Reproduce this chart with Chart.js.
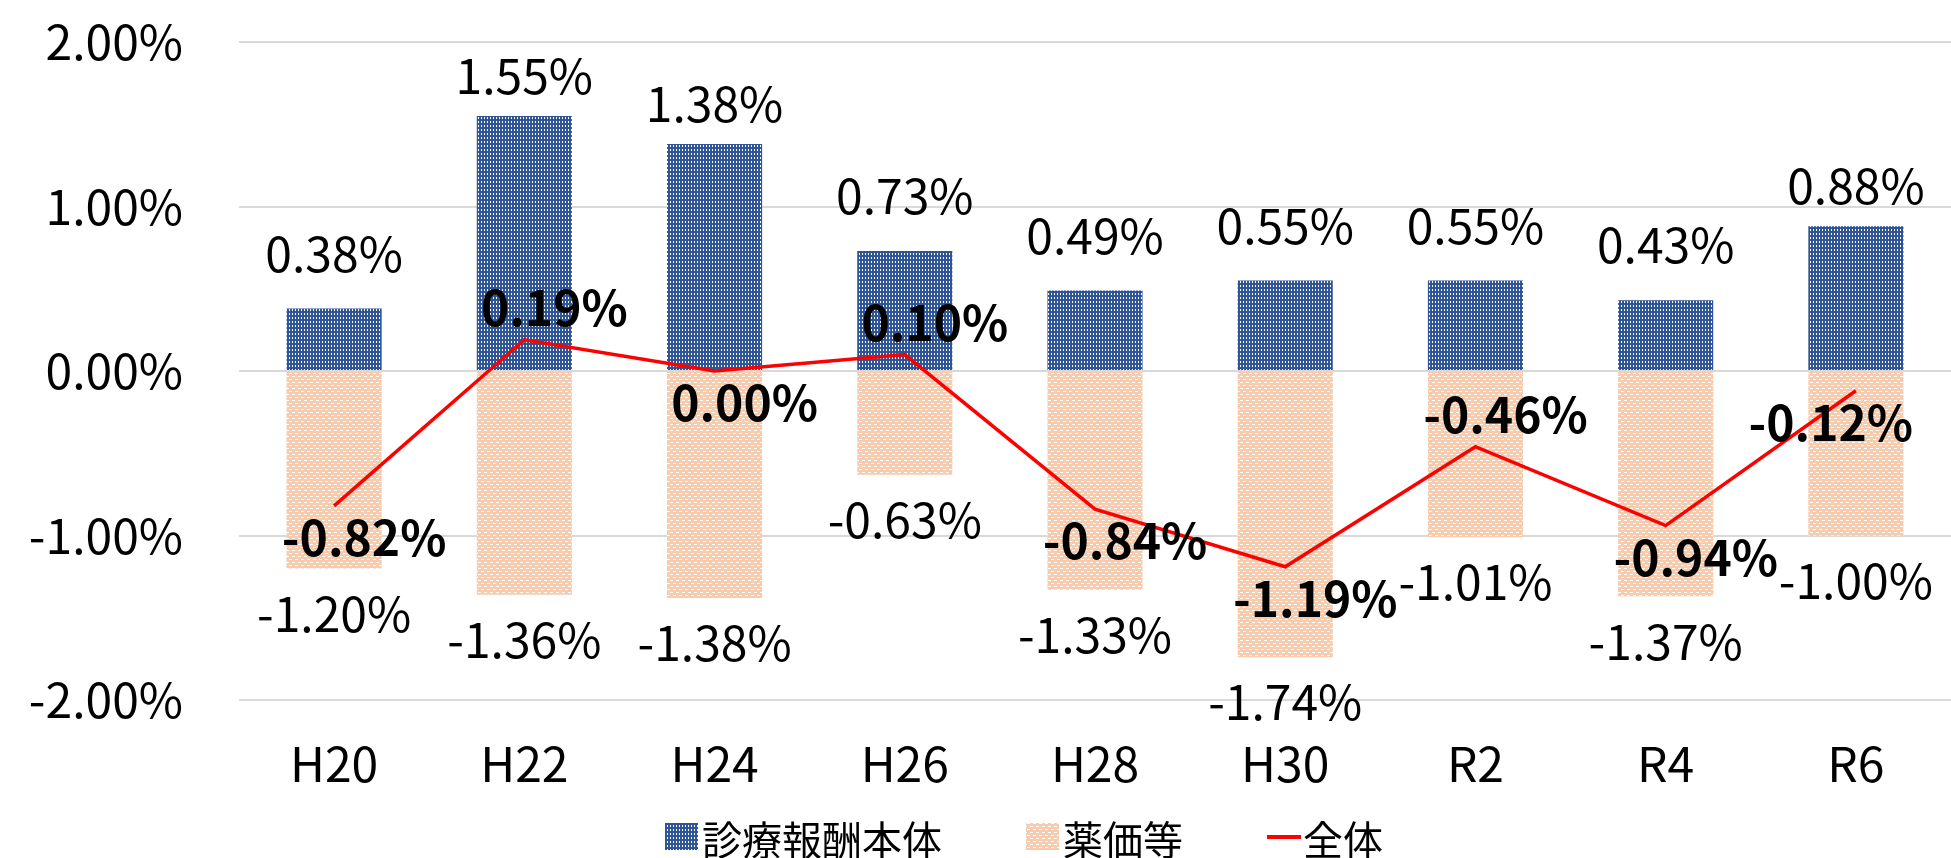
<!DOCTYPE html>
<html lang="ja">
<head>
    <meta charset="UTF-8">
    <title>診療報酬改定率</title>
<script src="https://cdn.jsdelivr.net/npm/chart.js@4.4.1/dist/chart.umd.min.js"></script>
<style>
    body { margin: 0; background: #fff; }
</style>
</head>
<body>
    <div style="width: 1951px; height: 858px;">
        <canvas id="myChart"></canvas>
    </div>
<script>
    // 데이터
    const labels = ['H20', 'H22', 'H24', 'H26', 'H28', 'H30', 'R2', 'R4', 'R6'];
    const honntai = [0.38, 1.55, 1.38, 0.73, 0.49, 0.55, 0.55, 0.43, 0.88];
    const yakka = [-1.20, -1.36, -1.38, -0.63, -1.33, -1.74, -1.01, -1.37, -1.00];
    const zentai = [-0.82, 0.19, 0.00, 0.10, -0.84, -1.19, -0.46, -0.94, -0.12];
    const yTicks = [-2, -1, 0, 1, 2];

    const FONT = '"Noto Sans CJK JP", "Noto Sans", sans-serif';
    const BLUE = '#2F5597';
    const PEACH = '#F8CBAD';

    // 패턴 (blue dotted grid / peach dashes)
    function f_bluePattern() {
        let c = document.createElement('canvas');
        c.width = 3; c.height = 4;
        let g = c.getContext('2d');
        g.fillStyle = BLUE;
        g.fillRect(0, 0, 3, 4);
        g.fillStyle = '#ffffff';
        g.fillRect(1, 1, 1, 2);
        return g.createPattern(c, 'repeat');
    }
    function f_peachPattern() {
        let c = document.createElement('canvas');
        c.width = 6; c.height = 6;
        let g = c.getContext('2d');
        g.fillStyle = PEACH;
        g.fillRect(0, 0, 6, 6);
        g.fillStyle = '#ffffff';
        g.fillRect(1, 1, 3, 1);
        g.fillRect(4, 4, 2, 1);
        g.fillRect(0, 4, 1, 1);
        return g.createPattern(c, 'repeat');
    }
    const bluePat = f_bluePattern();
    const peachPat = f_peachPattern();

    function f_pct(v) {
        return v.toFixed(2) + '%';
    }

    // 라벨 + 범례 직접 그리기
    const labelPlugin = {
        id: 'labelPlugin',
        afterDatasetsDraw(chart) {
            const ctx = chart.ctx;
            ctx.save();
            ctx.fillStyle = '#000';
            ctx.textAlign = 'center';
            ctx.textBaseline = 'middle';

            // 막대 라벨
            ctx.font = '48px ' + FONT;
            let m0 = chart.getDatasetMeta(1);
            m0.data.forEach(function(el, i) {
                let top = Math.min(el.y, el.base);
                let off = honntai[i] >= 0.8 ? 40 : 55;
                ctx.fillText(f_pct(honntai[i]), el.x, top - off);
            });
            let m1 = chart.getDatasetMeta(2);
            m1.data.forEach(function(el, i) {
                let bottom = Math.max(el.y, el.base);
                ctx.fillText(f_pct(yakka[i]), el.x, bottom + 45);
            });

            // 선 라벨 (굵게)
            ctx.font = 'bold 48px ' + FONT;
            let m2 = chart.getDatasetMeta(0);
            m2.data.forEach(function(el, i) {
                let txt = f_pct(zentai[i]);
                let w = ctx.measureText(txt).width;
                let up = i > 0 && i < zentai.length - 1 &&
                         zentai[i] > zentai[i - 1] && zentai[i] > zentai[i + 1];
                let x = el.x + 30;
                if (x + w / 2 > chart.width - 38) x = chart.width - 38 - w / 2;
                let y = up ? el.y - 32 : el.y + 32;
                ctx.fillText(txt, x, y);
            });
            ctx.restore();
        },
        afterDraw(chart) {
            const ctx = chart.ctx;
            ctx.save();
            ctx.font = '40px ' + FONT;
            ctx.textBaseline = 'middle';
            ctx.textAlign = 'left';
            ctx.fillStyle = '#000';
            let y = 840;
            let x = 665;
            // 診療報酬本体
            ctx.fillStyle = bluePat;
            ctx.fillRect(x, 823, 33, 27);
            ctx.fillStyle = '#000';
            ctx.fillText('診療報酬本体', x + 37, y);
            x = x + 37 + ctx.measureText('診療報酬本体').width + 84;
            // 薬価等
            ctx.fillStyle = peachPat;
            ctx.fillRect(x, 823, 33, 27);
            ctx.fillStyle = '#000';
            ctx.fillText('薬価等', x + 37, y);
            x = x + 37 + ctx.measureText('薬価等').width + 84;
            // 全体
            ctx.strokeStyle = '#FF0000';
            ctx.lineWidth = 4;
            ctx.beginPath();
            ctx.moveTo(x, 837);
            ctx.lineTo(x + 34, 837);
            ctx.stroke();
            ctx.fillText('全体', x + 36, y);
            ctx.restore();
        }
    };

const ctx = document.getElementById('myChart').getContext('2d');
const myChart = new Chart(ctx, {
    type: 'bar',
    data: {
        labels: labels,
        datasets: [{
            type: 'line',
            label: '全体',
            data: zentai,
            borderColor: '#FF0000',
            borderWidth: 3.5,
            pointRadius: 0,
            tension: 0,
            order: 0
        }, {
            label: '診療報酬本体',
            data: honntai,
            backgroundColor: bluePat,
            order: 1
        }, {
            label: '薬価等',
            data: yakka,
            backgroundColor: peachPat,
            order: 1
        }]
    },
    options: {
        responsive: true,
        maintainAspectRatio: false,
        animation: false,
        categoryPercentage: 1,
        barPercentage: 0.5,
        layout: {
            padding: { top: 42, right: 0, bottom: 58, left: 0 }
        },
        plugins: {
            legend: { display: false },
            tooltip: { enabled: false }
        },
        scales: {
            x: {
                stacked: true,
                grid: { display: false },
                border: { display: false },
                ticks: {
                    color: '#000',
                    padding: 27,
                    font: { family: FONT, size: 48 }
                },
                afterFit: function(scale) { scale.height = 100; }
            },
            y: {
                stacked: true,
                min: yTicks[0],
                max: yTicks[yTicks.length - 1],
                afterBuildTicks: function(scale) {
                    scale.ticks = yTicks.map(function(v) { return { value: v }; });
                },
                grid: { color: '#D9D9D9', lineWidth: 2, drawTicks: false },
                border: { display: false },
                ticks: {
                    color: '#000',
                    padding: 56,
                    font: { family: FONT, size: 48 },
                    callback: function(v) { return f_pct(v); }
                },
                afterFit: function(scale) {
                    scale.width = 239;
                    scale.paddingTop = 0;
                    scale.paddingBottom = 0;
                }
            }
        }
    },
    plugins: [labelPlugin]
});
</script>
</body>
</html>
